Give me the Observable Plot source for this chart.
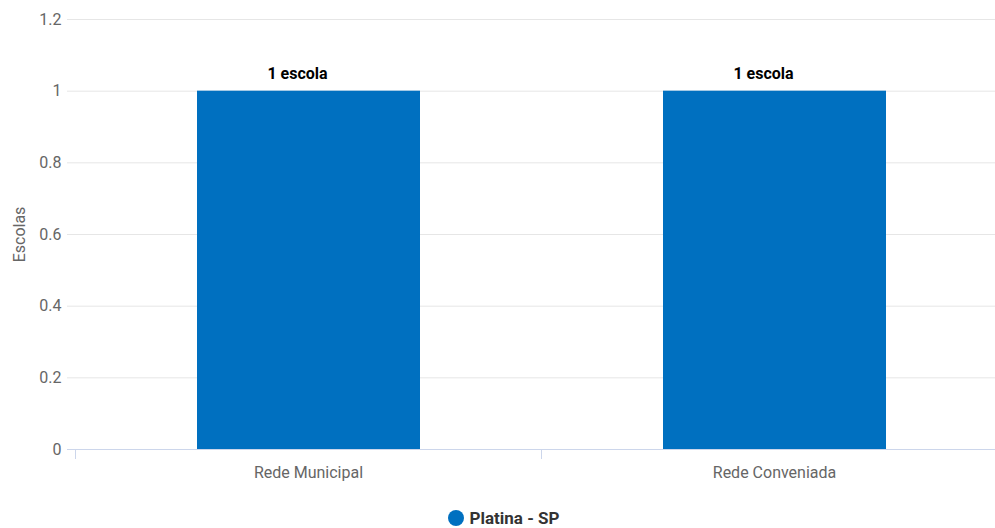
<!DOCTYPE html>
<html>
<head>
<meta charset="utf-8">
<script src="https://cdn.jsdelivr.net/npm/d3@7"></script>
<script src="https://cdn.jsdelivr.net/npm/@observablehq/plot@0.6"></script>
<style>
  html, body { margin: 0; padding: 0; background: #fff; }
  body { width: 995px; height: 528px; overflow: hidden; font-family: "Roboto", sans-serif; }
  #legend { display: flex; justify-content: center; align-items: center; height: 32px; margin-top: 6px; padding-left: 13px; font-size: 17px; font-weight: bold; color: #333; }
  #legend .dot { width: 16px; height: 16px; border-radius: 50%; background: #0070c0; margin-right: 5px; }
</style>
</head>
<body>
<div id="chart"></div>
<div id="legend"><span class="dot"></span><span>Platina - SP</span></div>
<script>
const categories = ["Rede Municipal", "Rede Conveniada"];
const values = [1, 1];
const labels = ["1 escola", "1 escola"];
const yTicks = [0, 0.2, 0.4, 0.6, 0.8, 1, 1.2];
const seriesName = "Platina - SP";

const data = categories.map((c, i) => ({category: c, value: values[i], label: labels[i]}));

const W = 995, H = 496;
const x0 = 75, x1 = 1007;
const step = (x1 - x0) / categories.length;

const chart = Plot.plot({
  width: W,
  height: H,
  marginLeft: 67,
  marginRight: 0,
  marginTop: 19,
  marginBottom: 47,
  style: {fontFamily: '"Roboto", sans-serif', fontSize: "16px", color: "#666", background: "#fff"},
  x: {domain: categories, range: [x0, x1], padding: 0, label: null},
  y: {domain: [0, 1.2]},
  marks: [
    Plot.gridY(yTicks, {stroke: "#e6e6e6", strokeOpacity: 1}),
    Plot.axisY(yTicks, {tickSize: 0, tickPadding: 6, tickFormat: d => String(d), fill: "#666", fontSize: 16,
      label: "Escolas", labelAnchor: "center", labelOffset: 54, labelArrow: false}),
    Plot.barY(data, {x: "category", y: "value", fill: "#0070c0", insetLeft: 122, insetRight: 121}),
    Plot.ruleY([0], {stroke: "#ccd6eb"}),
    Plot.axisX({tickSize: 10, text: null, dx: -step / 2, stroke: "#ccd6eb", strokeOpacity: 1}),
    Plot.axisX({tickSize: 0, tickPadding: 17, fill: "#666", fontSize: 16, label: null}),
    Plot.text(data, {x: "category", y: "value", text: "label", dy: -17, dx: -11, fill: "#000", fontWeight: "bold", fontSize: 16})
  ]
});
document.getElementById("chart").appendChild(chart);
</script>
</body>
</html>
